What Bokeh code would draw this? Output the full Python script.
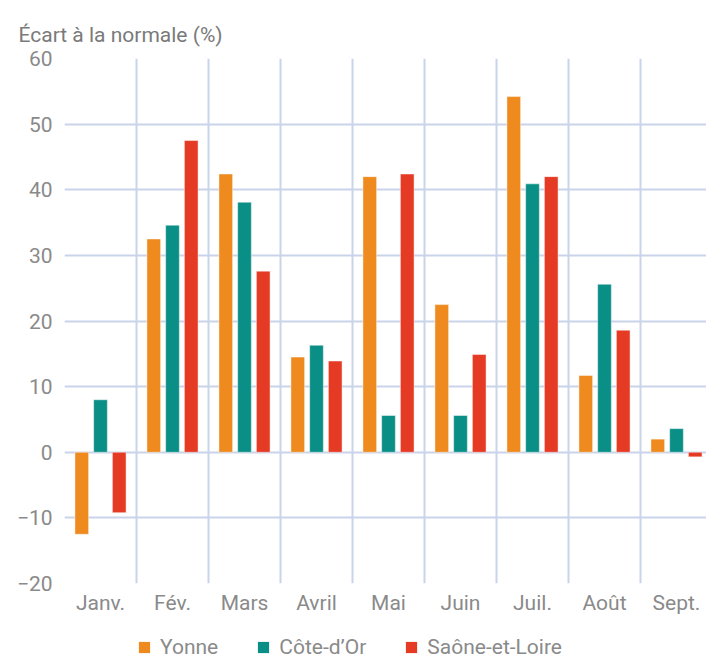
from bokeh.plotting import figure
from bokeh.layouts import column
from bokeh.models import (ColumnDataSource, FixedTicker, Grid, Legend, LegendItem)
from bokeh.transform import dodge
from bokeh.embed import file_html
from bokeh.resources import INLINE

months = ["Janv.", "Fév.", "Mars", "Avril", "Mai", "Juin", "Juil.", "Août", "Sept."]
yonne = [-12.5, 32.5, 42.4, 14.5, 42.0, 22.5, 54.2, 11.7, 2.0]
cote_dor = [8.0, 34.6, 38.1, 16.3, 5.6, 5.6, 40.9, 25.6, 3.6]
saone_et_loire = [-9.2, 47.5, 27.6, 13.9, 42.4, 14.9, 42.0, 18.6, -0.7]
series_names = ["Yonne", "Côte-d’Or", "Saône-et-Loire"]
y_ticks = [-20, -10, 0, 10, 20, 30, 40, 50, 60]

colors = ["#EF8A1E", "#0A8F86", "#E53A24"]
FONT = "Roboto"
TXT = "#8a8a8a"
GRID = "#C9D4EA"

centers = [i + 0.5 for i in range(len(months))]
src = ColumnDataSource(dict(x=centers, yonne=yonne, cote=cote_dor, saone=saone_et_loire))

p = figure(frame_width=642, frame_height=525, output_backend="svg", toolbar_location=None,
           x_range=(0, 642 / 72), y_range=(-20, 60),
           min_border_left=64, min_border_right=0, min_border_top=58, min_border_bottom=40)
p.outline_line_color = None
p.background_fill_color = "white"
p.border_fill_color = "white"

for key, off, col in zip(["yonne", "cote", "saone"], [-0.26, 0.0, 0.26], colors):
    p.vbar(x=dodge("x", off, range=p.x_range), top=key, bottom=0, width=0.19, source=src,
           fill_color=col, line_color="white", line_alpha=0.45, line_width=1)

# axes
p.xaxis.ticker = FixedTicker(ticks=centers)
p.xaxis.major_label_overrides = {c: m for c, m in zip(centers, months)}
p.yaxis.ticker = FixedTicker(ticks=y_ticks)
for ax in [p.xaxis[0], p.yaxis[0]]:
    ax.axis_line_color = None
    ax.major_tick_line_color = None
    ax.minor_tick_line_color = None
    ax.major_tick_out = 0
    ax.major_tick_in = 0
    ax.major_label_text_font = FONT
    ax.major_label_text_font_size = "21px"
    ax.major_label_text_color = TXT
p.yaxis.major_label_standoff = 12
p.xaxis.major_label_standoff = 7

# grids
p.xgrid.grid_line_color = None
p.ygrid.ticker = FixedTicker(ticks=y_ticks)
p.ygrid.grid_line_color = GRID
p.ygrid.grid_line_width = 2
vgrid = Grid(dimension=0, ticker=FixedTicker(ticks=list(range(len(months) + 1))),
             grid_line_color=GRID, grid_line_width=2)
p.add_layout(vgrid)

# title
p.title.text = "Écart à la normale (%)"
p.title.text_font = FONT
p.title.text_font_size = "21px"
p.title.text_font_style = "normal"
p.title.text_color = "#7a7a7a"
p.title.align = "left"
p.title.offset = -46
p.title.standoff = 24

# legend in its own strip below the chart
lg = figure(width=706, height=36, output_backend="svg", toolbar_location=None,
            x_axis_type=None, y_axis_type=None, x_range=(0, 1), y_range=(0, 1),
            min_border=0)
lg.outline_line_color = None
lg.xgrid.grid_line_color = None
lg.ygrid.grid_line_color = None
# legend key holders, placed outside the visible range
key_src = ColumnDataSource(dict(x=[-5.0], top=[0.0]))
items = []
for n, col in zip(series_names, colors):
    r = lg.vbar(x="x", top="top", width=0.1, source=key_src, fill_color=col, line_color=None)
    items.append(LegendItem(label=n, renderers=[r]))
legend = Legend(items=items, orientation="horizontal", location=(73, 0),
                glyph_width=14, glyph_height=14, label_standoff=9, spacing=38,
                padding=0, margin=0, border_line_color=None, background_fill_alpha=0,
                label_text_font=FONT, label_text_font_size="21px", label_text_color=TXT)
lg.add_layout(legend, "center")

layout = column(p, lg, spacing=0)
open("out.html", "w").write(file_html(layout, INLINE))
